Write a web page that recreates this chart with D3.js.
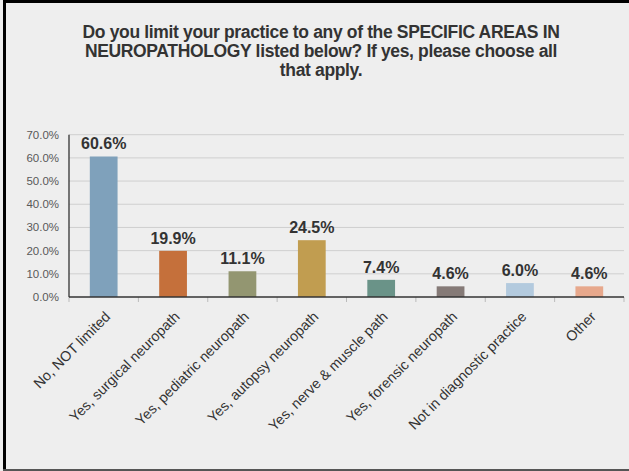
<!DOCTYPE html>
<html>
<head>
<meta charset="utf-8">
<script src="https://cdn.jsdelivr.net/npm/d3@7.9.0/dist/d3.min.js"></script>
<style>
  html, body { margin: 0; padding: 0; background: #eeeeee; }
  svg { display: block; font-family: "Liberation Sans", Arial, sans-serif; }
</style>
</head>
<body>
<svg id="chart" width="629" height="471"></svg>
<script>
const titleLines = [
  "Do you limit your practice to any of the SPECIFIC AREAS IN",
  "NEUROPATHOLOGY listed below? If yes, please choose all",
  "that apply."
];
const categories = [
  "No, NOT limited",
  "Yes, surgical neuropath",
  "Yes, pediatric neuropath",
  "Yes, autopsy neuropath",
  "Yes, nerve & muscle path",
  "Yes, forensic neuropath",
  "Not in diagnostic practice",
  "Other"
];
const values = [60.6, 19.9, 11.1, 24.5, 7.4, 4.6, 6.0, 4.6];
const colors = ["#7fa1bb", "#c5703b", "#939671", "#c19d50", "#6a9388", "#857a77", "#b3cade", "#e7a88c"];
const yTicks = [0, 10, 20, 30, 40, 50, 60, 70];

const svg = d3.select('#chart');
const W = 629, H = 471;

// frame
svg.append('rect').attr('x', 0).attr('y', 0).attr('width', W).attr('height', H).attr('fill', '#eeeeee');
svg.append('rect').attr('x', 3).attr('y', 0).attr('width', W).attr('height', 3).attr('fill', '#000');
svg.append('rect').attr('x', 3).attr('y', 0).attr('width', 3).attr('height', H).attr('fill', '#000');
svg.append('rect').attr('x', 3).attr('y', 469).attr('width', W).attr('height', 2).attr('fill', '#555');

// title
svg.append('text')
  .attr('text-anchor', 'middle')
  .attr('font-size', 17.5)
  .attr('font-weight', 'bold')
  .attr('letter-spacing', -0.35)
  .attr('fill', '#333')
  .selectAll('tspan')
  .data(titleLines)
  .join('tspan')
  .attr('x', 321)
  .attr('y', (d, i) => 38 + i * 19.2)
  .text(d => d);

const plotLeft = 69, plotRight = 624, plotBottom = 297, plotTop = 134.7;

const x = d3.scaleBand().domain(categories).range([plotLeft, plotRight]).paddingInner(0.6).paddingOuter(0.3);
const y = d3.scaleLinear().domain([0, 70]).range([plotBottom, plotTop]);

// gridlines
svg.append('g')
  .selectAll('line')
  .data(yTicks.slice(1))
  .join('line')
  .attr('x1', plotLeft).attr('x2', plotRight)
  .attr('y1', d => y(d)).attr('y2', d => y(d))
  .attr('stroke', '#cfcfcf').attr('stroke-width', 1);

// y labels
svg.append('g')
  .selectAll('text')
  .data(yTicks)
  .join('text')
  .attr('x', 59)
  .attr('y', d => y(d))
  .attr('dy', '0.35em')
  .attr('text-anchor', 'end')
  .attr('font-size', 11.5)
  .attr('fill', '#595959')
  .text(d => d3.format('.1f')(d) + '%');

// bars
svg.append('g')
  .selectAll('rect')
  .data(values)
  .join('rect')
  .attr('x', (d, i) => x(categories[i]))
  .attr('y', d => y(d))
  .attr('width', x.bandwidth())
  .attr('height', d => plotBottom - y(d))
  .attr('fill', (d, i) => colors[i]);

// value labels
svg.append('g')
  .selectAll('text')
  .data(values)
  .join('text')
  .attr('x', (d, i) => x(categories[i]) + x.bandwidth() / 2)
  .attr('y', d => y(d) - 7)
  .attr('text-anchor', 'middle')
  .attr('font-size', 16)
  .attr('font-weight', 'bold')
  .attr('fill', '#333')
  .text(d => d3.format('.1f')(d) + '%');

// category ticks
const bounds = d3.range(categories.length + 1).map(i => plotLeft + i * (plotRight - plotLeft) / categories.length);
svg.append('g')
  .selectAll('line')
  .data(bounds)
  .join('line')
  .attr('x1', d => d).attr('x2', d => d)
  .attr('y1', plotBottom).attr('y2', plotBottom + 5)
  .attr('stroke', '#bbb');

// axes lines
svg.append('line').attr('x1', plotLeft).attr('x2', plotLeft).attr('y1', plotTop).attr('y2', plotBottom)
  .attr('stroke', '#333').attr('stroke-width', 1.3);
svg.append('line').attr('x1', plotLeft).attr('x2', plotRight).attr('y1', plotBottom).attr('y2', plotBottom)
  .attr('stroke', '#333').attr('stroke-width', 1.3);

// category labels
svg.append('g')
  .selectAll('text')
  .data(categories)
  .join('text')
  .attr('transform', d => `translate(${x(d) + x.bandwidth() / 2 + 4},314) rotate(-45)`)
  .attr('dy', '0.35em')
  .attr('text-anchor', 'end')
  .attr('font-size', 14.3)
  .attr('fill', '#333')
  .text(d => d);
</script>
</body>
</html>
